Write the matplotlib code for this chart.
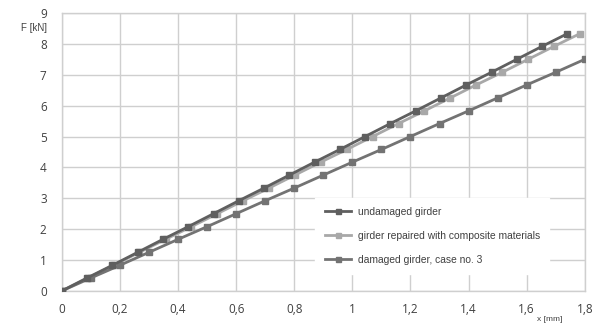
import matplotlib
matplotlib.use("Agg")
import matplotlib.pyplot as plt
from matplotlib.ticker import FuncFormatter

# Data
force_full = [0, 0.42, 0.83, 1.25, 1.67, 2.08, 2.5, 2.92, 3.33, 3.75, 4.17,
              4.58, 5.0, 5.42, 5.83, 6.25, 6.67, 7.08, 7.5, 7.92, 8.33]
x_undamaged = [0, 0.087, 0.174, 0.261, 0.348, 0.435, 0.522, 0.609, 0.696, 0.783, 0.87,
               0.957, 1.044, 1.131, 1.218, 1.305, 1.392, 1.479, 1.566, 1.653, 1.74]
x_repaired = [0, 0.089, 0.178, 0.267, 0.357, 0.446, 0.535, 0.624, 0.713, 0.802, 0.891,
              0.981, 1.07, 1.159, 1.248, 1.337, 1.426, 1.516, 1.605, 1.694, 1.783]
force_damaged = [0, 0.42, 0.83, 1.25, 1.67, 2.08, 2.5, 2.92, 3.33, 3.75, 4.17,
                 4.58, 5.0, 5.42, 5.83, 6.25, 6.67, 7.08, 7.5]
x_damaged = [0, 0.1, 0.2, 0.3, 0.4, 0.5, 0.6, 0.7, 0.8, 0.9, 1.0,
             1.1, 1.2, 1.3, 1.4, 1.5, 1.6, 1.7, 1.8]
labels = ["undamaged girder", "girder repaired with composite materials",
          "damaged girder, case no. 3"]
x_ticks = [0, 0.2, 0.4, 0.6, 0.8, 1.0, 1.2, 1.4, 1.6, 1.8]
y_ticks = [0, 1, 2, 3, 4, 5, 6, 7, 8, 9]

fig = plt.figure(figsize=(6.01, 3.25), dpi=100)
ax = fig.add_axes([0.103, 0.105, 0.870, 0.855])

lw = 2.0
ms = 4.5
ax.plot(x_undamaged, force_full, color="#5f5f5f", lw=lw, marker="s", ms=ms,
        label=labels[0], zorder=4)
ax.plot(x_repaired, force_full, color="#a8a8a8", lw=lw, marker="s", ms=ms,
        label=labels[1], zorder=3)
ax.plot(x_damaged, force_damaged, color="#737373", lw=lw, marker="s", ms=ms,
        label=labels[2], zorder=3)

ax.set_xlim(0, 1.8)
ax.set_ylim(0, 9)
ax.set_xticks(x_ticks)
ax.set_yticks(y_ticks)
fmt = FuncFormatter(lambda v, p: ("%g" % round(v, 1)).replace(".", ","))
ax.xaxis.set_major_formatter(fmt)
ax.yaxis.set_major_formatter(fmt)
ax.grid(True, color="#cfcfcf", lw=1.0)
ax.set_axisbelow(True)
for s in ax.spines.values():
    s.set_color("#cfcfcf")
    s.set_linewidth(1.0)
ax.tick_params(length=0, labelsize=8.5, labelcolor="#404040")
ax.tick_params(axis="y", pad=11)
ax.tick_params(axis="x", pad=9)
for t in ax.get_xticklabels() + ax.get_yticklabels():
    t.set_fontfamily("Open Sans")

fig.text(0.035, 0.913, "F [kN]", fontsize=7, color="#404040",
         family="Liberation Sans", ha="left", va="center")
fig.text(0.893, 0.016, "x [mm]", fontsize=6, color="#404040",
         family="Liberation Sans", ha="left", va="center")

leg = ax.legend(loc="upper left", bbox_to_anchor=(0.485, 0.335),
                frameon=True, fancybox=False, edgecolor="white", framealpha=1,
                prop={"family": "Liberation Sans", "size": 7.4},
                labelspacing=1.35, handlelength=2.6, handletextpad=0.6,
                borderpad=0.9, borderaxespad=0, markerscale=0.8)
leg.set_zorder(2)
for t in leg.get_texts():
    t.set_color("#404040")

fig.savefig("out.png", dpi=100, facecolor="white")
